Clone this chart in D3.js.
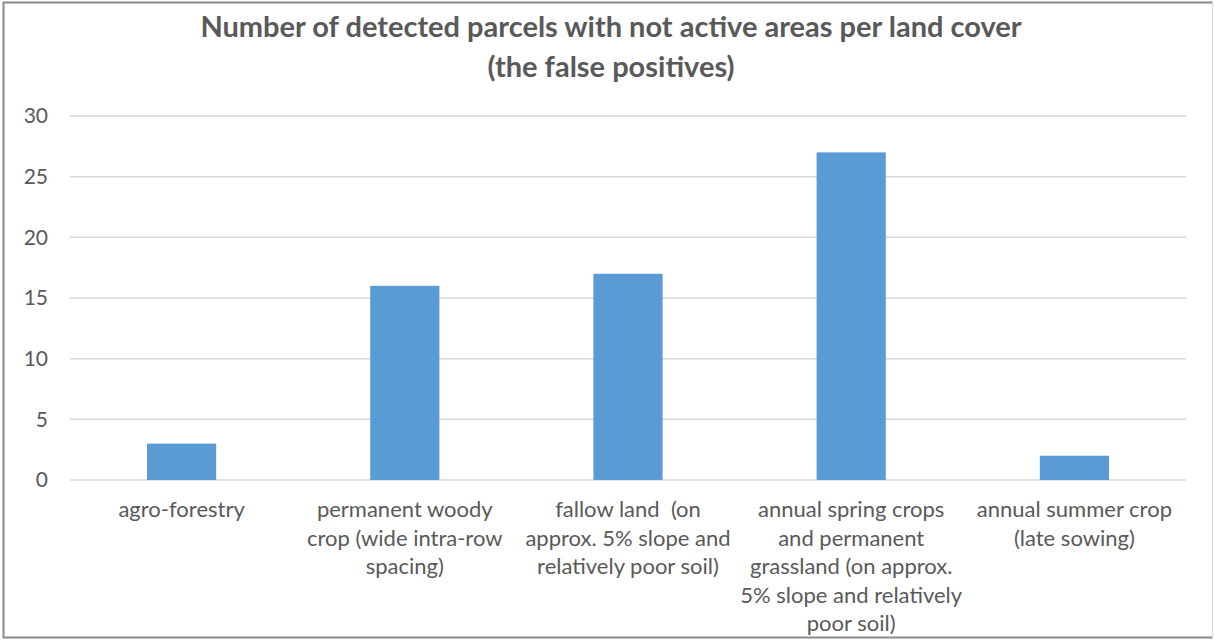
<!DOCTYPE html>
<html>
<head>
<meta charset="utf-8">
<script src="https://cdn.jsdelivr.net/npm/d3@7"></script>
<style>
  body { margin: 0; background: #fff; }
  svg { display: block; }
  text { white-space: pre; }
</style>
</head>
<body>
<svg id="chart" width="1215" height="640"></svg>
<script>
// Chart data
const titleLines = [
  "Number of detected parcels with not active areas per land cover",
  "(the false positives)"
];
const categories = [
  "agro-forestry",
  "permanent woody crop (wide intra-row spacing)",
  "fallow land  (on approx. 5% slope and relatively poor soil)",
  "annual spring crops and permanent grassland (on approx. 5% slope and relatively poor soil)",
  "annual summer crop (late sowing)"
];
// Line breaks used for the wrapped category labels
const categoryLines = [
  ["agro-forestry"],
  ["permanent woody", "crop (wide intra-row", "spacing)"],
  ["fallow land  (on", "approx. 5% slope and", "relatively poor soil)"],
  ["annual spring crops", "and permanent", "grassland (on approx.", "5% slope and relatively", "poor soil)"],
  ["annual summer crop", "(late sowing)"]
];
const values = [3, 16, 17, 27, 2];
const yTicks = [0, 5, 10, 15, 20, 25, 30];

const svg = d3.select("#chart");
const W = 1215, H = 640;
const plot = { left: 70, right: 1186, top: 116, bottom: 480 };
const textColor = "#595959";
const font = "Lato, 'Open Sans', sans-serif";

// Outer chart frame
svg.append("rect").attr("width", W).attr("height", H).attr("fill", "#fff");
const frame = svg.append("g").attr("fill", "none");
frame.append("line").attr("x1", 3).attr("x2", 1213).attr("y1", 2.5).attr("y2", 2.5).attr("stroke", "#8a8a8a").attr("stroke-width", 2);
frame.append("line").attr("x1", 3.5).attr("x2", 3.5).attr("y1", 2).attr("y2", 638).attr("stroke", "#8a8a8a").attr("stroke-width", 2);
frame.append("line").attr("x1", 3).attr("x2", 1213).attr("y1", 637.5).attr("y2", 637.5).attr("stroke", "#8a8a8a").attr("stroke-width", 2);
frame.append("line").attr("x1", 1212.5).attr("x2", 1212.5).attr("y1", 2).attr("y2", 638).attr("stroke", "#d4d4d4").attr("stroke-width", 1);

// Scales
const x = d3.scaleBand()
  .domain(categories)
  .range([plot.left, plot.right])
  .paddingInner(0.69)
  .paddingOuter(0.345);
const y = d3.scaleLinear().domain([0, 30]).range([plot.bottom, plot.top]);

// Horizontal gridlines
svg.append("g")
  .selectAll("line")
  .data(yTicks)
  .join("line")
  .attr("x1", plot.left)
  .attr("x2", plot.right)
  .attr("y1", d => y(d))
  .attr("y2", d => y(d))
  .attr("stroke", "#d9d9d9")
  .attr("stroke-width", 1.5);

// Y axis labels
const yAxis = svg.append("g")
  .attr("transform", `translate(${plot.left},0)`)
  .call(d3.axisLeft(y).tickValues(yTicks).tickSize(0).tickPadding(22));
yAxis.select(".domain").remove();
yAxis.selectAll("text")
  .attr("fill", textColor)
  .style("font-family", font)
  .style("font-size", "21px");

// Bars
svg.append("g")
  .selectAll("rect")
  .data(values)
  .join("rect")
  .attr("x", (d, i) => x(categories[i]))
  .attr("width", x.bandwidth())
  .attr("y", d => y(d))
  .attr("height", d => y(0) - y(d))
  .attr("fill", "#5b9bd5");

// Category labels
const xLabels = svg.append("g")
  .selectAll("text")
  .data(categories)
  .join("text")
  .attr("x", d => x(d) + x.bandwidth() / 2)
  .attr("y", 517)
  .attr("text-anchor", "middle")
  .attr("fill", textColor)
  .style("font-family", font)
  .style("font-size", "22px");
xLabels.selectAll("tspan")
  .data((d, i) => categoryLines[i].map(t => ({ t, cx: x(d) + x.bandwidth() / 2 })))
  .join("tspan")
  .attr("x", d => d.cx)
  .attr("dy", (d, i) => i === 0 ? 0 : 28.5)
  .text(d => d.t);

// Title
svg.append("g")
  .selectAll("text")
  .data(titleLines)
  .join("text")
  .attr("x", 611)
  .attr("y", (d, i) => 37 + i * 40)
  .attr("text-anchor", "middle")
  .attr("fill", textColor)
  .style("font-family", font)
  .style("font-weight", "bold")
  .style("font-size", "29px")
  .text(d => d);
</script>
</body>
</html>
